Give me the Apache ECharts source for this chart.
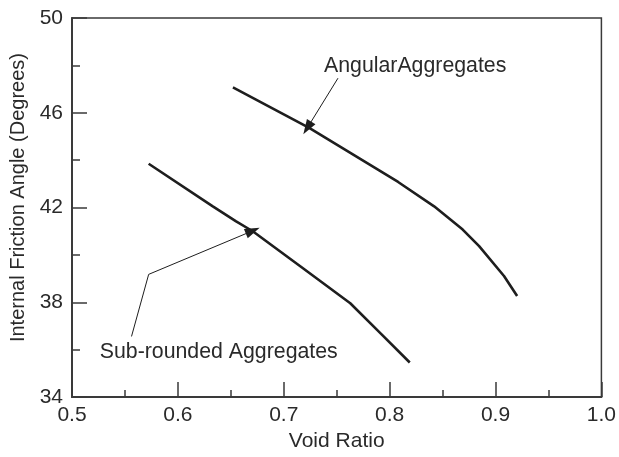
<!DOCTYPE html>
<html>
<head>
<meta charset="utf-8">
<script src="https://cdn.jsdelivr.net/npm/echarts@6/dist/echarts.min.js"></script>
<style>
  html, body { margin: 0; padding: 0; background: #fff; }
  #chart { width: 619px; height: 457px; }
</style>
</head>
<body>
<div id="chart"></div>
<script>
// Internal friction angle vs void ratio for two aggregate shapes
const angularVoid   = [0.652, 0.700, 0.724, 0.808, 0.842, 0.869, 0.8845, 0.908, 0.9204];
const angularAngle  = [47.07, 45.93, 45.36, 43.08, 42.05, 41.07, 40.37, 39.11, 38.27];
const roundedVoid   = [0.5724, 0.633, 0.655, 0.6707, 0.7175, 0.7628, 0.7924, 0.819];
const roundedAngle  = [43.85, 42.05, 41.42, 41.00, 39.46, 37.96, 36.65, 35.46];

const xTicks = [0.5, 0.6, 0.7, 0.8, 0.9, 1.0];
const yTicks = [34, 38, 42, 46, 50];

// callout anchors in data space: [void ratio, angle]
const angularLabel   = { text: 'AngularAggregates', at: [0.738, 47.98] };
const angularArrow   = [[0.7512, 47.46], [0.7222, 45.36]];
const roundedLabel   = { text: 'Sub-rounded Aggregates', at: [0.5262, 35.89] };
const roundedLeader  = [[0.5562, 36.56], [0.5724, 39.18]];
const roundedArrow   = [[0.5724, 39.18], [0.6707, 41.02]];

const FONT = '"Liberation Sans", Arial, Helvetica, sans-serif';
const INK = '#1e1e1e';
const TEXT = '#2a2a2a';

const zip = (xs, ys) => xs.map((x, i) => [x, ys[i]]);

const chart = echarts.init(document.getElementById('chart'), null, { renderer: 'canvas' });

const leaderStyle = { color: INK, width: 1, type: 'solid' };

chart.setOption({
  animation: false,
  backgroundColor: '#fff',
  grid: {
    left: 71, right: 14, top: 18, bottom: 59,
    show: true, borderColor: '#3a3a3a', borderWidth: 1.5, backgroundColor: 'transparent'
  },
  xAxis: {
    type: 'value',
    min: xTicks[0], max: xTicks[xTicks.length - 1], interval: 0.1,
    name: 'Void Ratio', nameLocation: 'middle', nameGap: 33,
    nameTextStyle: { fontFamily: FONT, fontSize: 21, color: TEXT },
    axisLine: { show: true, onZero: false, lineStyle: { color: '#3a3a3a', width: 2 } },
    axisTick: { show: true, inside: true, length: 15, lineStyle: { color: '#3a3a3a', width: 1.5 } },
    minorTick: { show: true, splitNumber: 2, length: 7, lineStyle: { color: '#3a3a3a', width: 1.5 } },
    splitLine: { show: false },
    axisLabel: {
      fontFamily: FONT, fontSize: 21, color: TEXT, margin: 8,
      formatter: v => v.toFixed(1)
    }
  },
  yAxis: {
    type: 'value',
    min: yTicks[0], max: yTicks[yTicks.length - 1], interval: 4,
    name: 'Internal Friction Angle (Degrees)', nameLocation: 'middle', nameGap: 44,
    nameTextStyle: { fontFamily: FONT, fontSize: 20, color: TEXT, padding: [0, 0, 0, 20] },
    axisLine: { show: true, onZero: false, lineStyle: { color: '#3a3a3a', width: 2 } },
    axisTick: { show: true, inside: true, length: 15, lineStyle: { color: '#3a3a3a', width: 1.5 } },
    minorTick: { show: true, splitNumber: 2, length: 8, lineStyle: { color: '#3a3a3a', width: 1.5 } },
    splitLine: { show: false },
    axisLabel: { fontFamily: FONT, fontSize: 21, color: TEXT, margin: 9 }
  },
  series: [
    {
      name: 'Angular Aggregates',
      type: 'line',
      data: zip(angularVoid, angularAngle),
      showSymbol: false, smooth: false,
      lineStyle: { color: INK, width: 2.6 },
      markLine: {
        silent: true, animation: false,
        symbol: ['none', 'triangle'], symbolSize: [10, 15],
        label: { show: false },
        lineStyle: leaderStyle,
        data: [[{ coord: angularArrow[0] }, { coord: angularArrow[1] }]]
      }
    },
    {
      name: 'Sub-rounded Aggregates',
      type: 'line',
      data: zip(roundedVoid, roundedAngle),
      showSymbol: false, smooth: false,
      lineStyle: { color: INK, width: 2.6 },
      markLine: {
        silent: true, animation: false,
        label: { show: false },
        lineStyle: leaderStyle,
        data: [
          [{ coord: roundedLeader[0], symbol: 'none' }, { coord: roundedLeader[1], symbol: 'none' }],
          [{ coord: roundedArrow[0], symbol: 'none' },
           { coord: roundedArrow[1], symbol: 'triangle', symbolSize: [10, 15] }]
        ]
      }
    }
  ]
});

// place callout text at their data-space anchors
function placeLabels() {
  const items = [angularLabel, roundedLabel].map(l => {
    const p = chart.convertToPixel({ gridIndex: 0 }, l.at);
    return {
      type: 'text', x: p[0], y: p[1], silent: true,
      style: {
        text: l.text, fill: TEXT, font: '21.3px ' + FONT,
        align: 'left', verticalAlign: 'middle'
      }
    };
  });
  chart.setOption({ graphic: { elements: items } });
}
placeLabels();
</script>
</body>
</html>
